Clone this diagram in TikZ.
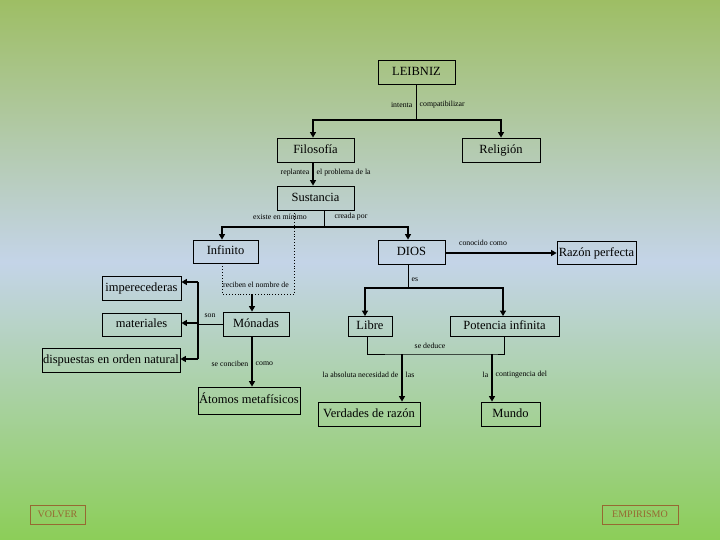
\documentclass[tikz,border=0pt]{standalone}
\usepackage{fontspec}
\setmainfont{Liberation Serif}
\usetikzlibrary{arrows.meta}
\definecolor{bgtop}{RGB}{158,190,100}
\definecolor{bgmid}{RGB}{196,212,232}
\definecolor{bgbot}{RGB}{140,206,88}
\definecolor{navtxt}{RGB}{150,105,50}
\begin{document}
\begin{tikzpicture}[x=1pt,y=-1pt,
  box/.style={draw=black,line width=0.8pt,inner sep=0pt,text height=8.8pt,text depth=2.6pt,font=\fontsize{12.5}{14}\selectfont},
  lbl/.style={inner sep=0.5pt,font=\fontsize{7.8}{9}\selectfont},
  arr/.style={line width=1.6pt,-{Triangle[width=6pt,length=5.5pt]}},
  thk/.style={line width=1.6pt},
  thn/.style={line width=0.8pt},
  dot/.style={line width=0.9pt,dotted},
  nav/.style={draw=navtxt,line width=0.8pt,inner sep=0pt,text height=7pt,text depth=2pt,text=navtxt,font=\fontsize{10}{12}\selectfont}]
\useasboundingbox (0,0) rectangle (720,540);
\shade[top color=bgtop,bottom color=bgmid] (0,0) rectangle (720,262);
\shade[top color=bgmid,bottom color=bgbot] (0,262) rectangle (720,540);
% boxes
\node[box,minimum width=77pt,minimum height=24pt] (leib) at (416.5,72) {LEIBNIZ};
\node[box,minimum width=77pt,minimum height=24pt] (filo) at (315.5,150) {Filosofía};
\node[box,minimum width=78pt,minimum height=24pt] (reli) at (501,150) {Religión};
\node[box,minimum width=77pt,minimum height=24pt] (sust) at (315.5,198) {Sustancia};
\node[box,minimum width=65pt,minimum height=23pt] (infi) at (225.5,251.5) {Infinito};
\node[box,minimum width=67pt,minimum height=24pt] (dios) at (411.5,252) {DIOS};
\node[box,minimum width=79pt,minimum height=23pt] (razon) at (596.5,253) {Razón perfecta};
\node[box,minimum width=79pt,minimum height=24pt] (impe) at (141.5,288) {imperecederas};
\node[box,minimum width=79pt,minimum height=23pt] (mate) at (141.5,324.5) {materiales};
\node[box,minimum width=138pt,minimum height=24pt] (disp) at (111,360) {dispuestas en orden natural};
\node[box,minimum width=66pt,minimum height=24pt] (mona) at (256,324) {Mónadas};
\node[box,minimum width=44pt,minimum height=20pt] (libre) at (370,326.5) {Libre};
\node[box,minimum width=109pt,minimum height=20pt] (pot) at (504.5,326.5) {Potencia infinita};
\node[box,minimum width=102pt,minimum height=27pt] (atom) at (249,400.5) {Átomos metafísicos};
\node[box,minimum width=102pt,minimum height=24pt] (verd) at (369,414) {Verdades de razón};
\node[box,minimum width=59pt,minimum height=24pt] (mundo) at (510.5,414) {Mundo};
\node[nav,minimum width=55pt,minimum height=19pt] (volver) at (57.5,514.5) {VOLVER};
\node[nav,minimum width=76pt,minimum height=19pt] (empir) at (640,514.5) {EMPIRISMO};
% LEIBNIZ -> Filosofia, Religion
\coordinate (j1) at (416.5,120);
\draw[thn] (leib.south) -- (j1);
\draw[arr] (j1) -| ([xshift=-2.5pt]filo.north);
\draw[arr] (j1) -| (reli.north);
\node[lbl,anchor=east] (l1) at (413,105) {intenta};
\node[lbl,anchor=west] (l2) at (419,105) {compatibilizar};
% Filosofia -> Sustancia
\draw[arr] ([xshift=-2.5pt]filo.south) -- ([xshift=-2.5pt]sust.north);
\node[lbl,anchor=east] (l3) at (310,173) {replantea};
\node[lbl,anchor=west] (l4) at (316,173) {el problema de la};
% Sustancia -> Infinito, DIOS
\coordinate (j3) at (324,227);
\draw[thn] ([xshift=8.5pt]sust.south) -- (j3);
\draw[arr] (j3) -| ([xshift=-3.5pt]infi.north);
\draw[arr] (j3) -| ([xshift=-3.5pt]dios.north);
\node[lbl] (l5) at (280,217) {existe en mínimo};
\node[lbl] (l6) at (351,217) {creada por};
% dotted loop Sustancia - Infinito, -> Monadas
\coordinate (d1) at (294,294);
\coordinate (d2) at (222,294);
\coordinate (d3) at (252,294);
\draw[dot] ([xshift=-21.5pt]sust.south) -- (d1) -- (d2) -- ([xshift=-3.5pt]infi.south);
\draw[arr] (d3) -- ([xshift=-4pt]mona.north);
\node[lbl] (l7) at (256,285) {reciben el nombre de};
% DIOS -> Razon perfecta
\draw[arr] (dios.east |- razon.west) -- (razon.west);
\node[lbl] (l8) at (483,242.5) {conocido como};
% DIOS -> Libre, Potencia
\coordinate (j6) at (408,288);
\draw[thn] ([xshift=-3.5pt]dios.south) -- (j6);
\draw[arr] (j6) -| ([xshift=-5pt]libre.north);
\draw[arr] (j6) -| ([xshift=-1.5pt]pot.north);
\node[lbl,anchor=west] (l9) at (411,280) {es};
% Libre, Potencia -> Verdades, Mundo
\coordinate (j7a) at (402,354);
\coordinate (j7b) at (492,354);
\draw[thn] ([xshift=-3pt]libre.south) |- (j7a) -- (j7b) -| (pot.south);
\draw[arr] (j7a) -- (verd.north -| j7a);
\draw[arr] (j7b) -- (mundo.north -| j7b);
\node[lbl] (l10) at (430,346) {se deduce};
\node[lbl,anchor=east] (l11) at (399,375) {la absoluta necesidad de};
\node[lbl,anchor=west] (l12) at (405,375) {las};
\node[lbl,anchor=east] (l13) at (489,375) {la};
\node[lbl,anchor=west] (l14) at (495,375) {contingencia del};
% Monadas -> imperecederas, materiales, dispuestas
\coordinate (v1) at (198,282);
\coordinate (v2) at (198,323);
\coordinate (v3) at (198,359);
\draw[thn] (mona.west) -- (mona.west -| v2);
\draw[thk] (v1) -- (v3);
\draw[arr] (v1) -- (impe.east |- v1);
\draw[arr] (v2) -- (mate.east |- v2);
\draw[arr] (v3) -- (disp.east |- v3);
\node[lbl] (l15) at (210,316) {son};
% Monadas -> Atomos
\coordinate (m1) at ([xshift=-4pt]mona.south);
\draw[arr] (m1) -- (atom.north -| m1);
\node[lbl,anchor=east] (l16) at (249,363.5) {se conciben};
\node[lbl,anchor=west] (l17) at (255,363.5) {como};
\end{tikzpicture}
\end{document}
